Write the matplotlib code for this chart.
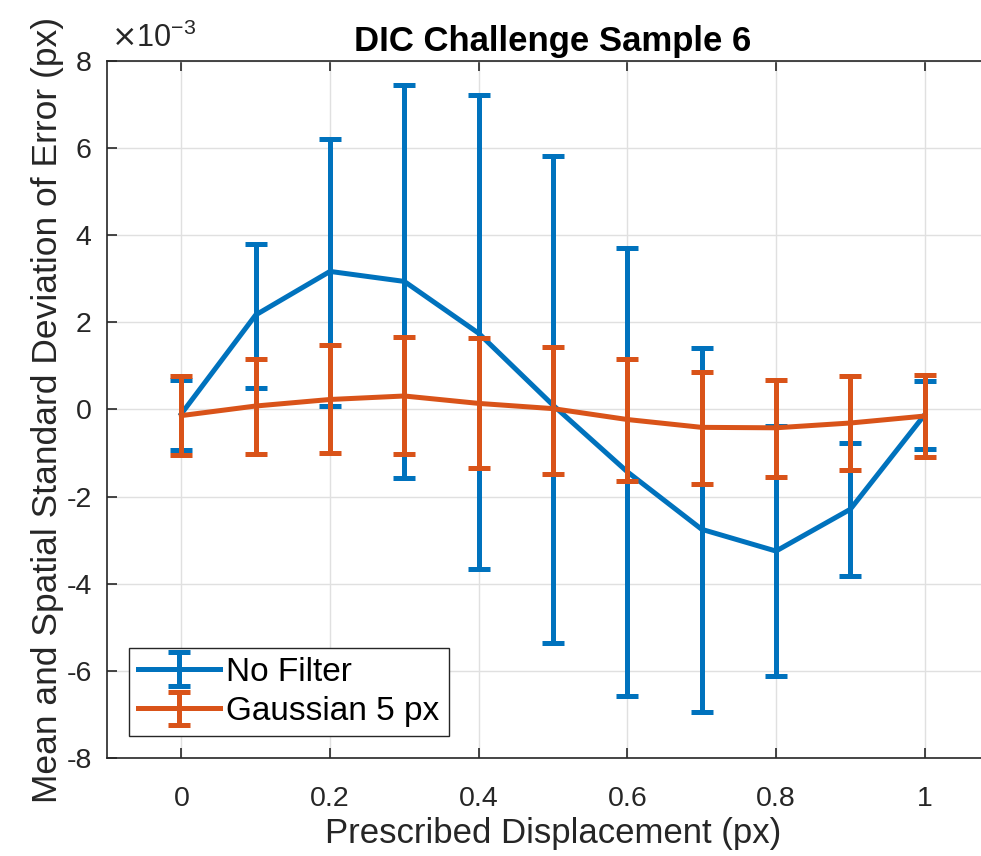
import matplotlib
matplotlib.use("Agg")
import numpy as np
import matplotlib.pyplot as plt

# values in units of 1e-3 px
displacement = [0.0, 0.1, 0.2, 0.3, 0.4, 0.5, 0.6, 0.7, 0.8, 0.9, 1.0]

nofilt_mean = [-0.1, 2.17, 3.17, 2.94, 1.75, 0.1, -1.43, -2.75, -3.25, -2.29, -0.12]
nofilt_low = [-0.92, 0.5, 0.08, -1.57, -3.67, -5.37, -6.58, -6.95, -6.11, -3.82, -0.9]
nofilt_high = [0.67, 3.79, 6.21, 7.44, 7.21, 5.82, 3.71, 1.42, -0.38, -0.78, 0.66]

gauss_mean = [-0.14, 0.08, 0.23, 0.31, 0.14, 0.02, -0.23, -0.41, -0.42, -0.31, -0.15]
gauss_low = [-1.05, -1.02, -1.0, -1.02, -1.35, -1.48, -1.63, -1.70, -1.54, -1.38, -1.10]
gauss_high = [0.77, 1.17, 1.47, 1.67, 1.63, 1.44, 1.17, 0.87, 0.68, 0.77, 0.80]

plt.rcParams['font.family'] = ['Liberation Sans', 'DejaVu Sans']
plt.rcParams['axes.unicode_minus'] = False

blue = '#0072BD'
orange = '#D95319'
dark = '#262626'

fig = plt.figure(figsize=(9.81, 8.56), dpi=100)
ax = fig.add_axes([107 / 981, 1 - 758 / 856, 892 / 981, 697 / 856])


def yerr(mean, low, high):
    m = np.array(mean)
    return [m - np.array(low), np.array(high) - m]


ax.errorbar(displacement, nofilt_mean, yerr=yerr(nofilt_mean, nofilt_low, nofilt_high),
            color=blue, lw=3.6, elinewidth=3.6, capsize=8, capthick=3.6,
            label='No Filter', zorder=3)
ax.errorbar(displacement, gauss_mean, yerr=yerr(gauss_mean, gauss_low, gauss_high),
            color=orange, lw=3.6, elinewidth=3.6, capsize=8, capthick=3.6,
            label='Gaussian 5 px', zorder=4)

ax.set_xlim(-0.1, 1.1)
ax.set_ylim(-8, 8)
ax.set_xticks([0, 0.2, 0.4, 0.6, 0.8, 1])
ax.set_xticklabels(['0', '0.2', '0.4', '0.6', '0.8', '1'])
ax.set_yticks(range(-8, 9, 2))
ax.grid(True, color='#e0e0e0', lw=1.0)
ax.set_axisbelow(True)

for s in ax.spines.values():
    s.set_color(dark)
    s.set_linewidth(1.2)
ax.tick_params(direction='in', length=7, width=1.2, colors=dark,
               labelsize=20.5, top=True, right=True)
ax.tick_params(axis='x', pad=20)
ax.tick_params(axis='y', pad=11)

ax.set_title('DIC Challenge Sample 6', fontsize=25, fontweight='bold', pad=7)
ax.set_xlabel('Prescribed Displacement (px)', fontsize=25, color=dark, labelpad=4)
ax.set_ylabel('Mean and Spatial Standard Deviation of Error (px)', fontsize=25.5,
              color=dark, labelpad=2)
ax.text(0.004, 1.01, r'$\times$10$^{\mathregular{-3}}$', transform=ax.transAxes,
        fontsize=22, color=dark, ha='left', va='bottom')

leg = ax.legend(loc='lower left', bbox_to_anchor=(22 / 892, 22 / 697), fontsize=24,
                fancybox=False, framealpha=1, edgecolor=dark,
                borderpad=0.27, handlelength=2.45, handletextpad=0.2, labelspacing=0.25,
                borderaxespad=0)
leg.get_frame().set_linewidth(1.0)

fig.savefig('out.png', dpi=100)
